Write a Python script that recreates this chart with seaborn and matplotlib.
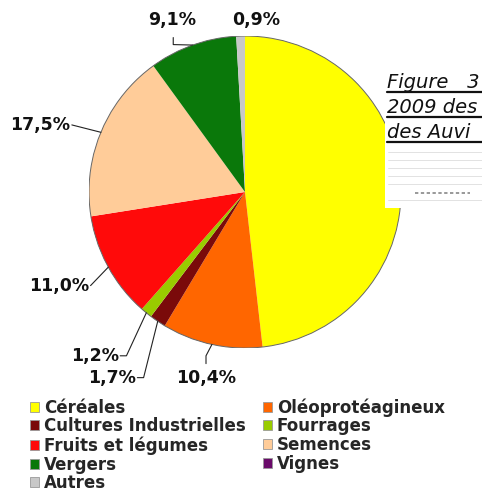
import numpy as np
import matplotlib
matplotlib.use("Agg")
import matplotlib.pyplot as plt
from matplotlib.patches import Patch, Rectangle
from matplotlib.lines import Line2D
import seaborn as sns

# Data
categories = ["Céréales", "Oléoprotéagineux", "Cultures Industrielles", "Fourrages",
              "Fruits et légumes", "Semences", "Vergers", "Vignes", "Autres"]
shares = [48.2, 10.4, 1.7, 1.2, 11.0, 17.5, 9.1, 0.0, 0.9]
pct_labels = ["", "10,4%", "1,7%", "1,2%", "11,0%", "17,5%", "9,1%", "", "0,9%"]
colors = ["#FFFF00", "#FF6600", "#7A0A0A", "#99CC00", "#FF0A0A",
          "#FFCC99", "#0A780A", "#6A0A6A", "#C8C8C8"]

sns.set_theme(style="white")
plt.rcParams["font.family"] = ["DejaVu Sans"]

fig = plt.figure(figsize=(4.82, 4.94), dpi=100)
W, H = 482, 494
cx, cy, r = 245, 192, 156
ax = fig.add_axes([(cx - r) / W, 1 - (cy + r) / H, 2 * r / W, 2 * r / H])

wedges, _ = ax.pie(shares, colors=colors, startangle=90, counterclock=False,
                   wedgeprops=dict(linewidth=0))
ax.add_patch(plt.Circle((0, 0), 1, fill=False, ec="#666666", lw=0.7))
ax.set_xlim(-1, 1)
ax.set_ylim(-1, 1)
ax.set_aspect("auto")
ax.axis("off")

# label placement (text position, ha, leader path in radius units)
label_pos = {
    1: ((-0.25, -1.19), "center", [(-0.25, -1.10), (-0.25, -1.05)]),
    2: ((-0.70, -1.19), "right", [(-0.69, -1.19), (-0.65, -1.19)]),
    3: ((-0.81, -1.05), "right", [(-0.80, -1.05), (-0.76, -1.05)]),
    4: ((-1.0, -0.60), "right", [(-0.99, -0.60)]),
    5: ((-1.12, 0.43), "right", [(-1.11, 0.43)]),
    6: ((-0.47, 1.10), "center", [(-0.46, 0.99), (-0.46, 0.945)]),
    8: ((0.07, 1.10), "center", []),
}
for i, (txt_xy, ha, path) in label_pos.items():
    w = wedges[i]
    mid = np.deg2rad((w.theta1 + w.theta2) / 2)
    ax.text(txt_xy[0], txt_xy[1], pct_labels[i], ha=ha, va="center",
            fontsize=12.5, fontweight="bold", color="#111111", clip_on=False)
    if path:
        pts = path + [(1.0 * np.cos(mid), 1.0 * np.sin(mid))]
        xs, ys = zip(*pts)
        ax.add_line(Line2D(xs, ys, color="#222222", lw=0.8, clip_on=False))

# legend, filled row by row
handles = [Patch(facecolor=c, edgecolor="#999999", lw=0.6) for c in colors]
order = list(range(0, len(categories), 2)) + list(range(1, len(categories), 2))
fig.legend([handles[i] for i in order], [categories[i] for i in order],
           ncol=2, loc="upper left", bbox_to_anchor=(30 / W, 1 - 398 / H),
           frameon=False, borderpad=0, borderaxespad=0,
           handlelength=0.55, handleheight=0.55, handletextpad=0.3,
           labelspacing=0.05, columnspacing=1.0,
           prop=dict(size=12, weight="bold"))

# caption block partly covering the pie
fig.patches.append(Rectangle((385 / W, 1 - 208 / H), 100 / W, 146 / H,
                             transform=fig.transFigure, facecolor="white",
                             edgecolor="none", zorder=5))
caption = ["Figure   3", "2009 des", "des Auvi"]
for k, line in enumerate(caption):
    base = 88 + 25 * k
    fig.text(387 / W, 1 - base / H, line, fontsize=14, style="italic",
             color="#111111", va="baseline", zorder=6)
    fig.lines.append(Line2D([387 / W, 1.0], [1 - (base + 4) / H] * 2,
                            transform=fig.transFigure, color="#111111",
                            lw=1.6, zorder=6))
for yy in [152, 160, 168, 176, 184, 200]:
    fig.lines.append(Line2D([388 / W, 1.0], [1 - yy / H] * 2,
                            transform=fig.transFigure, color="#dddddd",
                            lw=0.6, zorder=6))
fig.lines.append(Line2D([415 / W, 470 / W], [1 - 193 / H] * 2,
                        transform=fig.transFigure, color="#888888",
                        lw=1.2, ls=(0, (2, 1.5)), zorder=6))

fig.savefig("out.png", dpi=100, facecolor="white")
